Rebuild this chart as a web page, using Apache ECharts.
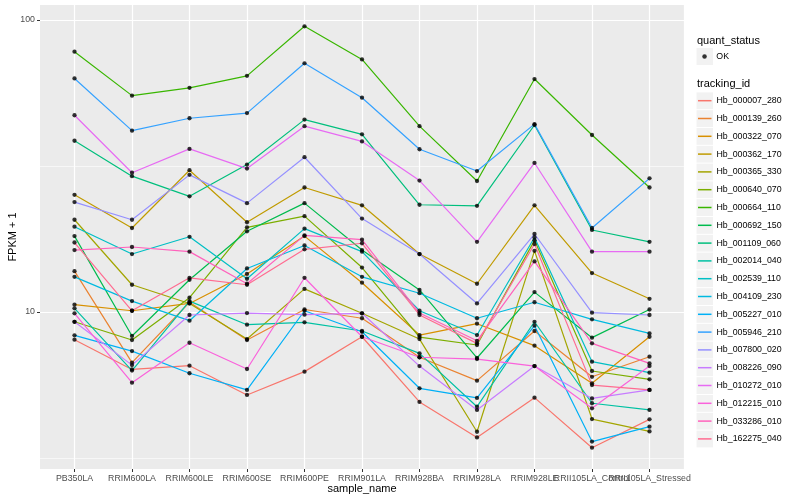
<!DOCTYPE html>
<html>
<head>
<meta charset="utf-8">
<script src="https://cdn.jsdelivr.net/npm/echarts@6/dist/echarts.min.js"></script>
<style>html,body{margin:0;padding:0;background:#fff}#c{width:800px;height:500px}</style>
</head>
<body>
<div id="c"></div>
<script>
// ---- data ----
const categories = ['PB350LA','RRIM600LA','RRIM600LE','RRIM600SE','RRIM600PE','RRIM901LA','RRIM928BA','RRIM928LA','RRIM928LE','RRII105LA_Control','RRII105LA_Stressed'];
const trackingIds = ['Hb_000007_280','Hb_000139_260','Hb_000322_070','Hb_000362_170','Hb_000365_330','Hb_000640_070','Hb_000664_110','Hb_000692_150','Hb_001109_060','Hb_002014_040','Hb_002539_110','Hb_004109_230','Hb_005227_010','Hb_005946_210','Hb_007800_020','Hb_008226_090','Hb_010272_010','Hb_012215_010','Hb_033286_010','Hb_162275_040'];

const Hb_000007_280 = [8.04, 6.36, 6.55, 5.20, 6.25, 8.23, 4.92, 3.72, 5.09, 3.43, 4.29];
const Hb_000139_260 = [13.8, 6.71, 10.8, 8.02, 10.2, 9.52, 7.00, 5.82, 8.61, 6.00, 7.03];
const Hb_000322_070 = [10.6, 10.1, 10.7, 13.5, 18.2, 12.6, 8.34, 9.12, 7.67, 5.70, 8.23];
const Hb_000362_170 = [25.2, 19.4, 30.6, 20.3, 26.7, 23.2, 15.8, 12.5, 23.2, 13.6, 11.1];
const Hb_000365_330 = [20.7, 12.4, 10.7, 8.08, 12.0, 9.90, 8.08, 3.89, 16.2, 4.30, 3.90];
const Hb_000640_070 = [9.26, 8.02, 11.2, 19.5, 21.3, 14.2, 8.21, 7.71, 17.6, 6.28, 5.88];
const Hb_000664_110 = [77.9, 55.1, 58.6, 64.4, 95.2, 73.3, 43.3, 28.1, 62.8, 40.4, 26.7];
const Hb_000692_150 = [18.2, 8.28, 12.9, 18.9, 23.6, 16.3, 11.9, 6.96, 11.7, 8.17, 10.2];
const Hb_001109_060 = [38.6, 29.2, 24.9, 32.0, 45.6, 40.6, 23.3, 23.1, 43.7, 19.1, 17.4];
const Hb_002014_040 = [10.3, 6.30, 10.9, 9.05, 9.22, 8.61, 7.22, 4.74, 9.26, 4.87, 4.62];
const Hb_002539_110 = [19.6, 15.8, 18.1, 13.0, 19.3, 16.1, 10.1, 8.34, 18.0, 6.76, 6.20];
const Hb_004109_230 = [13.2, 10.9, 9.34, 14.1, 16.9, 13.2, 11.6, 9.52, 10.8, 9.44, 8.45];
const Hb_005227_010 = [8.32, 7.35, 6.17, 5.41, 10.1, 8.56, 5.48, 5.08, 8.98, 3.60, 4.05];
const Hb_005946_210 = [63.1, 41.8, 46.1, 48.0, 71.1, 54.2, 36.1, 30.4, 44.0, 19.4, 28.7];
const Hb_007800_020 = [23.8, 20.7, 29.5, 23.6, 33.9, 20.9, 15.8, 10.7, 18.5, 9.95, 9.77];
const Hb_008226_090 = [9.26, 6.58, 9.77, 9.92, 9.79, 9.90, 6.53, 4.62, 6.53, 5.06, 5.41];
const Hb_010272_010 = [47.2, 30.0, 36.2, 31.0, 43.3, 38.4, 28.2, 17.4, 32.4, 16.1, 16.1];
const Hb_012215_010 = [9.90, 5.73, 7.85, 6.38, 13.1, 8.23, 7.00, 6.90, 6.53, 4.68, 6.53];
const Hb_033286_010 = [16.3, 16.7, 16.1, 12.5, 18.3, 17.7, 9.92, 7.97, 14.9, 7.81, 6.67];
const Hb_162275_040 = [17.3, 10.1, 13.1, 12.4, 16.4, 17.2, 9.77, 7.81, 17.1, 5.62, 5.41];

const seriesValues = [Hb_000007_280, Hb_000139_260, Hb_000322_070, Hb_000362_170, Hb_000365_330,
  Hb_000640_070, Hb_000664_110, Hb_000692_150, Hb_001109_060, Hb_002014_040, Hb_002539_110,
  Hb_004109_230, Hb_005227_010, Hb_005946_210, Hb_007800_020, Hb_008226_090, Hb_010272_010,
  Hb_012215_010, Hb_033286_010, Hb_162275_040];

const yTickValues = [10, 100];
const yTickLabels = ['10', '100'];
const yMinorValues = [Math.sqrt(10), Math.sqrt(1000)];

// ---- styles ----
const palette = ['#F8766D','#EA8331','#D89000','#C09B00','#A3A500','#7CAE00','#39B600','#00BB4E','#00BF7D','#00C1A3','#00BFC4','#00BAE0','#00B0F6','#35A2FF','#9590FF','#C77CFF','#E76BF3','#FA62DB','#FF62BC','#FF6C91'];
const FONT = 'Liberation Sans, Arial, Helvetica, sans-serif';
const yMin = 2.9, yMax = 112.6;
const xMin = -0.6, xMax = 10.6;
const L0 = Math.log10(yMin), L1 = Math.log10(yMax);

const chart = echarts.init(document.getElementById('c'), null, {renderer: 'canvas'});

const lineSeries = trackingIds.map((id, k) => ({
  name: id,
  type: 'line',
  xAxisIndex: 0,
  yAxisIndex: 1,
  color: palette[k],
  showSymbol: false,
  symbol: 'none',
  lineStyle: {width: 1.2, color: palette[k]},
  z: 2,
  silent: true,
  data: seriesValues[k].map((v, i) => [i, v])
}));

const pointData = [];
seriesValues.forEach(arr => arr.forEach((v, i) => pointData.push([i, v])));

const idx = categories.map((c, i) => i);
// an extra (empty, hidden) end-of-axis label so that the two last category labels are both kept
const xLabelPos = idx.concat([xMax]);

const keyRects = trackingIds.map((id, i) => ({
  type: 'rect', z: 1,
  shape: {x: 696.5, y: 92.4 + i * 17.8, width: 16.5, height: 16.8},
  style: {fill: '#F2F2F2'}
}));

chart.setOption({
  animation: false,
  backgroundColor: '#ffffff',
  textStyle: {fontFamily: FONT},
  grid: {left: 40, top: 5, width: 644, height: 464, show: true, backgroundColor: '#EBEBEB', borderWidth: 0,
         containLabel: false, outerBoundsMode: 'none'},
  xAxis: {
    type: 'value', min: xMin, max: xMax,
    axisLine: {show: false, onZero: false},
    axisTick: {show: true, length: 3, customValues: xLabelPos, lineStyle: {color: '#333333', width: 1}},
    axisLabel: {customValues: xLabelPos,
                formatter: v => (Math.abs(v - Math.round(v)) < 1e-6 && categories[Math.round(v)]) || '',
                color: '#4D4D4D', fontSize: 8.8, margin: 5,
                fontFamily: FONT, hideOverlap: false, showMaxLabel: false},
    splitLine: {show: true, lineStyle: {color: '#FFFFFF', width: 1.2}},
    name: 'sample_name', nameLocation: 'middle', nameGap: 14, nameMoveOverlap: false,
    nameTextStyle: {color: '#000', fontSize: 11, fontFamily: FONT, verticalAlign: 'top'}
  },
  yAxis: [
    {
      type: 'value', min: L0, max: L1, position: 'left',
      axisLine: {show: false, onZero: false},
      axisTick: {show: true, length: 3, customValues: yTickValues.map(Math.log10), lineStyle: {color: '#333333', width: 1}},
      axisLabel: {customValues: yTickValues.map(Math.log10),
        formatter: v => { const j = yTickValues.findIndex(t => Math.abs(Math.log10(t) - v) < 1e-6); return j >= 0 ? yTickLabels[j] : ''; },
        color: '#4D4D4D', fontSize: 8.8, margin: 5, fontFamily: FONT},
      splitLine: {show: true, lineStyle: {color: '#FFFFFF', width: 1.2}},
      name: 'FPKM + 1', nameLocation: 'middle', nameGap: 22, nameMoveOverlap: false,
      nameTextStyle: {color: '#000', fontSize: 11, fontFamily: FONT}
    },
    {
      type: 'log', logBase: 10, min: yMin, max: yMax, position: 'right',
      axisLine: {show: false, onZero: false}, axisTick: {show: false}, axisLabel: {show: false}, splitLine: {show: false}
    },
    {
      type: 'value', min: L0, max: L1, position: 'right',
      axisLine: {show: false, onZero: false},
      axisTick: {show: false, customValues: yMinorValues.map(Math.log10)},
      axisLabel: {show: false},
      splitLine: {show: true, lineStyle: {color: '#FFFFFF', width: 0.6}}
    }
  ],
  legend: [
    {
      data: [{name: 'OK', itemStyle: {color: '#000'}}],
      orient: 'vertical', left: 702.3, top: 48, padding: 0,
      icon: 'circle', itemWidth: 4.5, itemHeight: 4.5,
      selectedMode: false,
      textStyle: {fontSize: 8.8, color: '#000', lineHeight: 17, fontFamily: FONT, padding: [0, 0, 0, 4.5]}
    },
    {
      data: trackingIds,
      orient: 'vertical', left: 698, top: 91.8, padding: 0,
      icon: 'rect', itemWidth: 13.5, itemHeight: 1.5, itemGap: 0,
      selectedMode: false,
      textStyle: {fontSize: 8.8, color: '#000', lineHeight: 17.8, fontFamily: FONT}
    }
  ],
  graphic: [
    {type: 'text', z: 5, x: 697, y: 41, style: {text: 'quant_status', fontSize: 11, fill: '#000', fontFamily: FONT, verticalAlign: 'middle'}},
    {type: 'text', z: 5, x: 697, y: 84, style: {text: 'tracking_id', fontSize: 11, fill: '#000', fontFamily: FONT, verticalAlign: 'middle'}},
    {type: 'rect', z: 1, shape: {x: 696.5, y: 48, width: 16.5, height: 17}, style: {fill: '#F2F2F2'}}
  ].concat(keyRects),
  series: lineSeries.concat([{
    name: 'OK', type: 'scatter', xAxisIndex: 0, yAxisIndex: 1,
    symbol: 'circle', symbolSize: 4.3, itemStyle: {color: '#000'}, z: 3, silent: true,
    data: pointData
  }])
});
</script>
</body>
</html>
